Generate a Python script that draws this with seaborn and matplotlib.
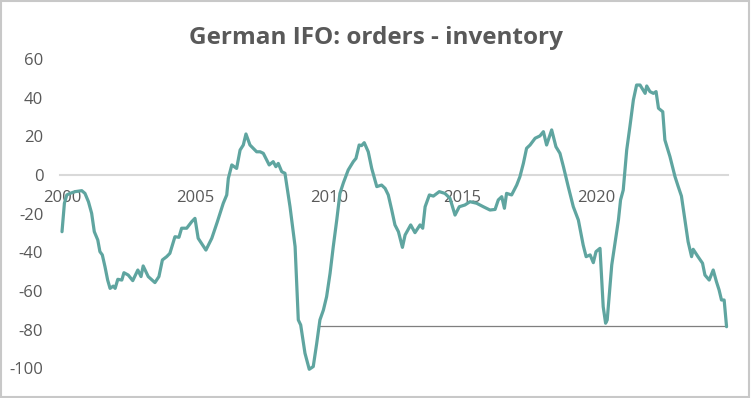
#!/usr/bin/env python3
"""
German IFO: orders - inventory (recreated line chart)
"""
import matplotlib
matplotlib.use("Agg")
import matplotlib.pyplot as plt
import seaborn as sns

# values (year fraction, balance)
years = [
    2000.00, 2000.09, 2000.18, 2000.30, 2000.49, 2000.74, 2000.86, 2000.99,
    2001.11, 2001.21, 2001.34, 2001.42, 2001.51, 2001.61, 2001.71, 2001.80,
    2001.92, 2001.99, 2002.09, 2002.24, 2002.32, 2002.48, 2002.65, 2002.84,
    2002.96, 2003.04, 2003.23, 2003.48, 2003.63, 2003.76, 2003.92, 2004.04,
    2004.23, 2004.38, 2004.48, 2004.67, 2004.86, 2004.98, 2005.10, 2005.39,
    2005.61, 2005.82, 2006.04, 2006.17, 2006.23, 2006.36, 2006.54, 2006.67,
    2006.79, 2006.89, 2007.04, 2007.29, 2007.42, 2007.54, 2007.76, 2007.91,
    2008.01, 2008.10, 2008.23, 2008.35, 2008.54, 2008.73, 2008.85, 2008.94,
    2009.10, 2009.26, 2009.41, 2009.54, 2009.66, 2009.79, 2009.91, 2010.04,
    2010.16, 2010.29, 2010.41, 2010.54, 2010.72, 2010.91, 2011.01, 2011.13,
    2011.22, 2011.32, 2011.47, 2011.60, 2011.79, 2011.97, 2012.10, 2012.22,
    2012.35, 2012.47, 2012.60, 2012.75, 2012.85, 2013.06, 2013.22, 2013.41,
    2013.51, 2013.60, 2013.76, 2013.91, 2014.13, 2014.34, 2014.53, 2014.72,
    2014.88, 2015.09, 2015.28, 2015.53, 2015.78, 2016.03, 2016.22, 2016.34,
    2016.47, 2016.57, 2016.65, 2016.84, 2017.03, 2017.15, 2017.28, 2017.40,
    2017.53, 2017.72, 2017.90, 2018.03, 2018.15, 2018.34, 2018.50, 2018.65,
    2018.78, 2018.96, 2019.15, 2019.34, 2019.46, 2019.52, 2019.63, 2019.78,
    2019.90, 2020.00, 2020.15, 2020.27, 2020.36, 2020.42, 2020.59, 2020.71,
    2020.84, 2020.92, 2021.02, 2021.15, 2021.27, 2021.40, 2021.52, 2021.65,
    2021.84, 2021.90, 2022.02, 2022.15, 2022.25, 2022.34, 2022.50, 2022.58,
    2022.77, 2022.96, 2023.08, 2023.20, 2023.33, 2023.45, 2023.58, 2023.64,
    2023.82, 2023.99, 2024.08, 2024.24, 2024.39, 2024.51, 2024.61, 2024.70,
    2024.80, 2024.89,
]
values = [
    -29.3, -14.6, -10.3, -9.5, -8.6, -8.1, -9.5, -13.8,
    -19.8, -29.3, -33.6, -39.6, -41.3, -47.4, -54.3, -58.6,
    -57.4, -58.6, -53.9, -54.3, -50.5, -51.7, -54.6, -49.1,
    -52.5, -47.0, -52.5, -55.6, -52.5, -43.9, -42.2, -40.5,
    -31.9, -32.2, -27.5, -27.5, -24.1, -22.4, -32.7, -38.8,
    -32.7, -24.1, -14.6, -10.3, -1.7, 5.2, 3.4, 12.9,
    15.5, 21.2, 15.5, 12.0, 12.0, 11.2, 5.2, 6.9,
    4.3, 6.0, 1.7, 0.9, -16.4, -37.0, -74.9, -77.5,
    -92.1, -100.4, -99.0, -87.0, -74.9, -69.8, -62.9, -50.8,
    -37.0, -23.3, -9.5, -4.0, 2.6, 6.9, 8.6, 15.5,
    15.2, 16.7, 12.0, 3.4, -6.0, -5.2, -6.9, -10.3,
    -18.1, -25.8, -29.3, -37.4, -31.0, -25.8, -29.8, -25.8,
    -27.5, -16.4, -10.3, -10.9, -8.6, -9.5, -12.0, -20.7,
    -16.4, -15.5, -13.8, -14.6, -16.4, -18.1, -17.8, -12.9,
    -11.2, -17.2, -9.5, -10.3, -5.2, -0.9, 6.0, 13.8,
    15.5, 19.0, 20.2, 22.4, 15.5, 23.3, 14.6, 11.2,
    4.3, -6.0, -16.4, -23.3, -31.9, -36.2, -42.2, -41.3,
    -45.3, -39.6, -37.9, -68.1, -76.6, -74.9, -46.5, -35.3,
    -23.3, -12.9, -7.8, 12.9, 25.0, 38.8, 46.5, 46.5,
    42.2, 46.0, 43.1, 42.2, 43.1, 34.5, 32.7, 18.1,
    9.5, -0.9, -6.0, -10.9, -23.3, -34.5, -42.2, -38.4,
    -42.2, -45.6, -51.7, -54.3, -49.1, -55.1, -59.4, -64.6,
    -64.6, -78.4,
]
ref_level = -78
ref_start = 2009.6
tick_years = [2000, 2005, 2010, 2015, 2020]
y_ticks = [60, 40, 20, 0, -20, -40, -60, -80, -100]

sns.set_theme(style="white")
plt.rcParams['font.family'] = ['Open Sans', 'DejaVu Sans']

grey_txt = '#595959'
teal = '#5fa5a0'

fig = plt.figure(figsize=(7.51, 3.98), dpi=100)
ax = fig.add_axes([60 / 751, (398 - 374.3) / 398, 668 / 751, 321.2 / 398])

sns.lineplot(x=years, y=values, ax=ax, color=teal, linewidth=2.3,
             estimator=None, sort=False, clip_on=False)

# horizontal marker at the latest reading
ax.plot([ref_start, years[-1]], [ref_level, ref_level], color='#7f7f7f',
        linewidth=0.9, zorder=1)

ax.set_xlim(1999.925, 2024.944)
ax.set_ylim(-103, 63)
ax.set_yticks(y_ticks)
ax.set_yticklabels([str(v) for v in y_ticks])
ax.set_xticks(tick_years)
ax.set_xticklabels([str(y) for y in tick_years])

for side in ['top', 'right', 'left']:
    ax.spines[side].set_visible(False)
ax.spines['bottom'].set_position(('data', 0))
ax.spines['bottom'].set_color('#d9d9d9')
ax.spines['bottom'].set_linewidth(1.5)
ax.spines['bottom'].set_zorder(0)

ax.tick_params(axis='y', length=0, pad=12, labelsize=12, labelcolor=grey_txt)
ax.tick_params(axis='x', length=0, pad=11, labelsize=12, labelcolor=grey_txt)
ax.grid(False)

fig.text(0.5, 1 - 38 / 398, 'German IFO: orders - inventory', ha='center',
         va='center', fontsize=17.5, fontweight='bold', color=grey_txt)

# chart border
fig.patches.append(plt.Rectangle((0.001, 0.002), 0.997, 0.995,
                                 transform=fig.transFigure, fill=False,
                                 edgecolor='#c8c8c8', linewidth=1.5))

fig.savefig('out.png', dpi=100)
